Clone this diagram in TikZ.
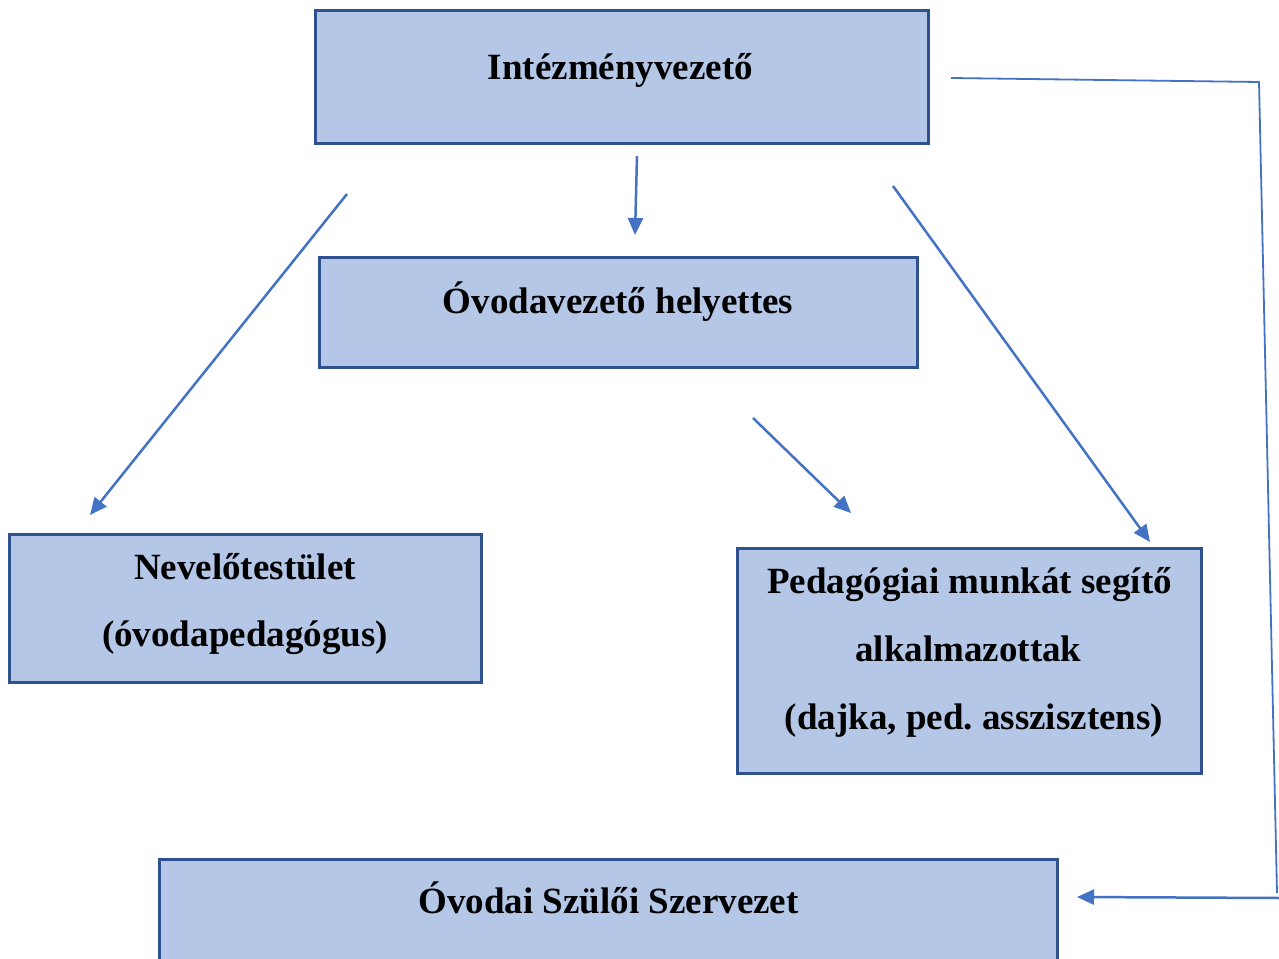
\documentclass[tikz,border=0pt]{standalone}
\usepackage{fontspec}
\setmainfont{Liberation Serif}
\usetikzlibrary{arrows.meta}
\definecolor{boxfill}{HTML}{B4C7E7}
\definecolor{boxline}{HTML}{2F528F}
\definecolor{arrowblue}{HTML}{4472C4}
\frenchspacing
\tikzset{
  orgbox/.style={draw=boxline, fill=boxfill, line width=3pt, rectangle, inner sep=0pt},
  lbl/.style={anchor=base, inner sep=0pt, font=\fontsize{37}{44}\selectfont\bfseries},
  conn/.style={draw=arrowblue, line width=2.5pt, -{Triangle[length=17pt,width=15pt]}},
  connline/.style={draw=arrowblue, line width=1.8pt}
}
\begin{document}
\begin{tikzpicture}[x=1pt,y=-1pt]
\useasboundingbox (0,0) rectangle (1279,958);
\fill[white] (0,0) rectangle (1279,958);
\clip (0,0) rectangle (1279,958);

% boxes
\node[orgbox, minimum width=613pt, minimum height=132pt] (vez) at (621.5,77) {};
\node[orgbox, minimum width=598pt, minimum height=110pt] (hely) at (618,312) {};
\node[orgbox, minimum width=472pt, minimum height=148pt] (nev) at (245,608) {};
\node[orgbox, minimum width=464pt, minimum height=225pt] (ped) at (969,660.5) {};
\node[orgbox, minimum width=898pt, minimum height=200pt] (szmk) at (608,959) {};

% labels
\node[lbl] (t1) at (620.5,79) {Intézményvezető};
\node[lbl] (t2) at (618,313) {Óvodavezető helyettes};
\node[lbl] (t3a) at (245,579) {Nevelőtestület};
\node[lbl] (t3b) at (245,646) {(óvodapedagógus)};
\node[lbl] (t4a) at (969.5,593) {Pedagógiai munkát segítő};
\node[lbl] (t4b) at (968.5,661) {alkalmazottak};
\node[lbl] (t4c) at (974,729) {(dajka, ped. asszisztens)};
\node[lbl] (t5) at (608.5,913) {Óvodai Szülői Szervezet};

% connector end points
\coordinate (a1s) at (637,156);
\coordinate (a1e) at (635,235);
\coordinate (a2s) at (347,194);
\coordinate (a2e) at (90,515);
\coordinate (a3s) at (753,418);
\coordinate (a3e) at (851,513);
\coordinate (a4s) at (893,186);
\coordinate (a4e) at (1150,542);
\coordinate (r1) at (951,78);
\coordinate (r2) at (1259,82);
\coordinate (r3) at (1277,893);
\coordinate (r4) at (1280,898);
\coordinate (r5) at (1077,897);

% connectors
\draw[conn] (a1s) -- (a1e);
\draw[conn] (a2s) -- (a2e);
\draw[conn] (a3s) -- (a3e);
\draw[conn] (a4s) -- (a4e);
\draw[connline] (r1) -- (r2) -- (r3);
\draw[conn] (r4) -- (r5);
\end{tikzpicture}
\end{document}
